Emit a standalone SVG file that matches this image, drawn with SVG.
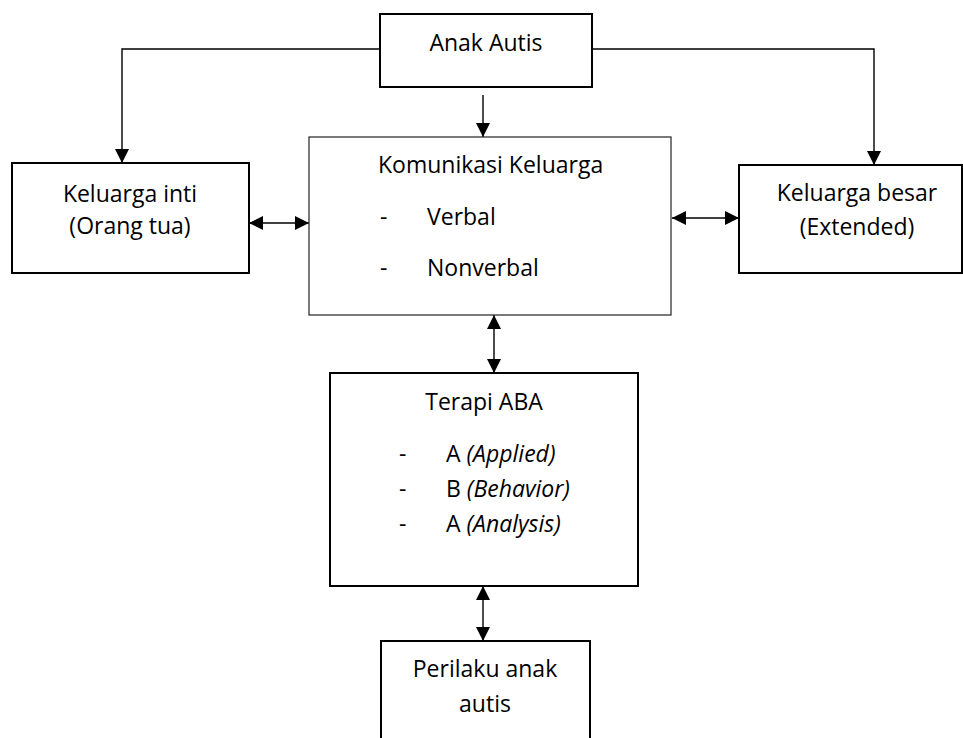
<svg xmlns="http://www.w3.org/2000/svg" width="963" height="738" viewBox="0 0 963 738">
<style>
.box{fill:#fff;stroke:#000;stroke-width:2}
.thin{fill:#fff;stroke:#222;stroke-width:1.2}
.t{font-family:"Open Sans","Noto Sans",sans-serif;font-size:23px;fill:#000}
.c{text-anchor:middle}
.i{font-style:italic}
.ln{fill:none;stroke:#000;stroke-width:1.4}
</style>
<defs>
<marker id="ah" markerUnits="userSpaceOnUse" markerWidth="15" markerHeight="15" refX="14" refY="7" orient="auto-start-reverse" viewBox="0 0 15 14">
<path d="M0,0 L14,7 L0,14 z" fill="#000"/>
</marker>
</defs>
<g id="connectors">
<polyline class="ln" points="380,49 122,49 122,163" marker-end="url(#ah)"/>
<polyline class="ln" points="592,49 874,49 874,165" marker-end="url(#ah)"/>
<line class="ln" x1="483" y1="95" x2="483" y2="137" marker-end="url(#ah)"/>
<line class="ln" x1="249" y1="223" x2="309" y2="223" marker-start="url(#ah)" marker-end="url(#ah)"/>
<line class="ln" x1="672" y1="218" x2="739" y2="218" marker-start="url(#ah)" marker-end="url(#ah)"/>
<line class="ln" x1="494" y1="315" x2="494" y2="373" marker-start="url(#ah)" marker-end="url(#ah)"/>
<line class="ln" x1="483" y1="586" x2="483" y2="641" marker-start="url(#ah)" marker-end="url(#ah)"/>
</g>
<g id="anak-autis">
<rect class="box" x="380" y="14" width="212" height="73"/>
<text class="t c" x="486" y="51">Anak Autis</text>
</g>
<g id="keluarga-inti">
<rect class="box" x="12" y="163" width="237" height="110"/>
<text class="t c" x="130" y="202">Keluarga inti</text>
<text class="t c" x="130" y="234">(Orang tua)</text>
</g>
<g id="komunikasi">
<rect class="thin" x="309" y="137" width="362" height="178"/>
<text class="t" x="378" y="173">Komunikasi Keluarga</text>
<text class="t" x="380" y="225">-</text>
<text class="t" x="427" y="225">Verbal</text>
<text class="t" x="380" y="276">-</text>
<text class="t" x="427" y="276">Nonverbal</text>
</g>
<g id="keluarga-besar">
<rect class="box" x="739" y="165" width="223" height="108"/>
<text class="t c" x="857" y="201">Keluarga besar</text>
<text class="t c" x="857" y="235">(Extended)</text>
</g>
<g id="terapi-aba">
<rect class="box" x="330" y="373" width="308" height="213"/>
<text class="t c" x="484" y="410">Terapi ABA</text>
<text class="t" x="399" y="462">-</text>
<text class="t" x="446" y="462">A <tspan class="i">(Applied)</tspan></text>
<text class="t" x="399" y="497">-</text>
<text class="t" x="446" y="497">B <tspan class="i">(Behavior)</tspan></text>
<text class="t" x="399" y="532">-</text>
<text class="t" x="446" y="532">A <tspan class="i">(Analysis)</tspan></text>
</g>
<g id="perilaku">
<rect class="box" x="381" y="641" width="209" height="110"/>
<text class="t c" x="485" y="677">Perilaku anak</text>
<text class="t c" x="485" y="712">autis</text>
</g>
</svg>
